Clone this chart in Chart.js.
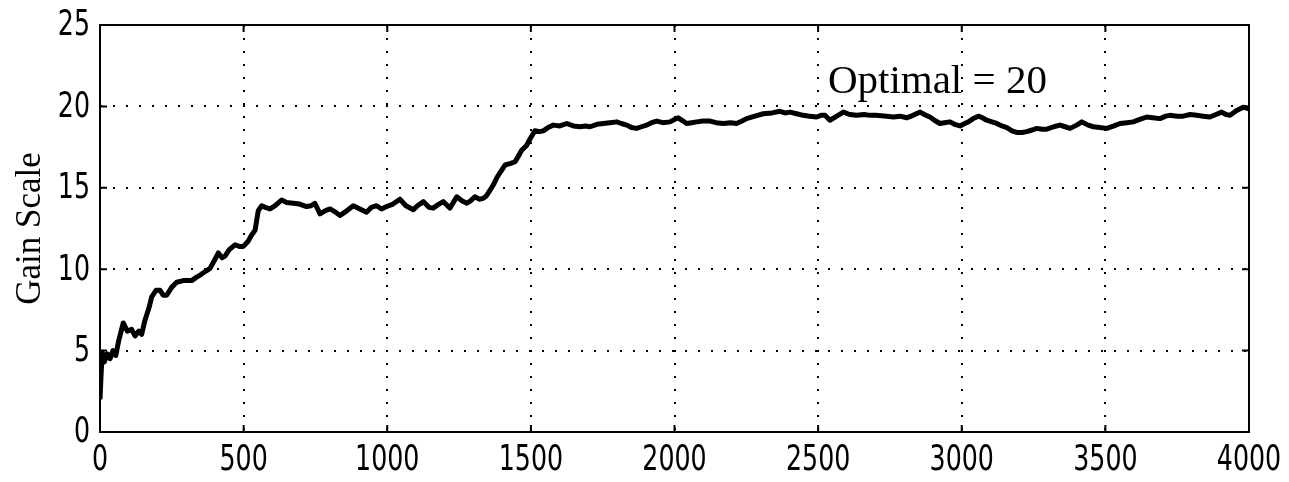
<!DOCTYPE html>
<html>
<head>
<meta charset="utf-8">
<script src="https://cdn.jsdelivr.net/npm/chart.js@4/dist/chart.umd.min.js"></script>
<style>
  html, body { margin: 0; padding: 0; background: #fff; }
  #wrap { width: 1289px; height: 482px; position: relative; }
</style>
</head>
<body>
<div id="wrap"><canvas id="chart"></canvas></div>
<script>
// iteration number and gain scale
const iterations = [
  0, 4, 8, 15, 25, 35, 45, 55, 65, 81, 95, 110, 122, 135, 145, 157, 170, 180, 195, 209,
  220, 232, 250, 267, 290, 319, 335, 354, 370, 383, 400, 412, 425, 435, 450, 470, 485, 499, 515, 528,
  540, 551, 563, 575, 592, 610, 632, 650, 673, 695, 719, 735, 748, 766, 785, 801, 820, 836, 860, 882,
  905, 928, 945, 963, 980, 998, 1020, 1044, 1065, 1091, 1105, 1126, 1145, 1160, 1180, 1195, 1210, 1218, 1242, 1260,
  1277, 1290, 1305, 1320, 1334, 1345, 1358, 1370, 1381, 1395, 1410, 1430, 1445, 1455, 1468, 1485, 1497, 1514, 1530, 1543,
  1560, 1578, 1601, 1625, 1648, 1671, 1690, 1706, 1730, 1752, 1775, 1799, 1815, 1834, 1850, 1868, 1885, 1903, 1920, 1938,
  1960, 1984, 2000, 2013, 2030, 2042, 2060, 2077, 2100, 2124, 2145, 2170, 2195, 2216, 2235, 2251, 2280, 2309, 2340, 2367,
  2385, 2402, 2425, 2448, 2470, 2495, 2510, 2524, 2541, 2565, 2588, 2610, 2634, 2660, 2681, 2700, 2739, 2762, 2785, 2808,
  2830, 2855, 2870, 2889, 2905, 2924, 2940, 2959, 2975, 2994, 3010, 3023, 3040, 3058, 3072, 3087, 3105, 3122, 3140, 3157,
  3175, 3191, 3210, 3226, 3245, 3261, 3280, 3296, 3320, 3342, 3360, 3377, 3400, 3418, 3440, 3458, 3480, 3505, 3530, 3551,
  3575, 3597, 3620, 3644, 3665, 3690, 3710, 3725, 3750, 3771, 3795, 3818, 3840, 3864, 3885, 3905, 3920, 3934, 3957, 3980,
  4000
];
const gainScale = [
  2.0, 3.6, 4.9, 4.3, 4.8, 4.5, 5.0, 4.7, 5.6, 6.7, 6.2, 6.3, 5.9, 6.2, 6.0, 6.9, 7.6, 8.3, 8.7, 8.7,
  8.4, 8.4, 8.9, 9.2, 9.3, 9.3, 9.5, 9.7, 9.9, 10.05, 10.6, 11.0, 10.7, 10.8, 11.2, 11.5, 11.4, 11.4, 11.7, 12.1,
  12.4, 13.6, 13.9, 13.8, 13.7, 13.9, 14.25, 14.1, 14.05, 14.0, 13.85, 13.9, 14.05, 13.4, 13.6, 13.7, 13.5, 13.3, 13.6, 13.9,
  13.7, 13.5, 13.8, 13.9, 13.7, 13.85, 14.0, 14.3, 13.9, 13.65, 13.9, 14.15, 13.8, 13.75, 14.0, 14.15, 13.9, 13.75, 14.45, 14.2,
  14.05, 14.2, 14.45, 14.3, 14.35, 14.5, 14.85, 15.2, 15.6, 16.0, 16.4, 16.5, 16.6, 16.9, 17.3, 17.6, 18.0, 18.5, 18.45, 18.5,
  18.7, 18.85, 18.8, 18.95, 18.8, 18.75, 18.8, 18.75, 18.9, 18.95, 19.0, 19.05, 18.95, 18.85, 18.7, 18.65, 18.75, 18.85, 19.0, 19.1,
  19.0, 19.05, 19.2, 19.3, 19.1, 18.95, 19.0, 19.05, 19.1, 19.1, 19.0, 18.95, 19.0, 18.95, 19.1, 19.25, 19.4, 19.55, 19.6, 19.7,
  19.6, 19.65, 19.55, 19.45, 19.4, 19.35, 19.45, 19.45, 19.15, 19.4, 19.65, 19.5, 19.45, 19.5, 19.45, 19.45, 19.4, 19.35, 19.4, 19.3,
  19.45, 19.65, 19.5, 19.35, 19.15, 18.95, 19.0, 19.05, 18.9, 18.8, 18.95, 19.05, 19.25, 19.4, 19.3, 19.15, 19.05, 18.95, 18.8, 18.7,
  18.5, 18.4, 18.4, 18.45, 18.55, 18.65, 18.6, 18.6, 18.75, 18.85, 18.75, 18.65, 18.85, 19.05, 18.85, 18.75, 18.7, 18.65, 18.8, 18.95,
  19.0, 19.05, 19.2, 19.35, 19.3, 19.25, 19.4, 19.45, 19.4, 19.4, 19.5, 19.45, 19.4, 19.35, 19.5, 19.65, 19.5, 19.45, 19.75, 19.95,
  19.85
];
const xTicks = [0, 500, 1000, 1500, 2000, 2500, 3000, 3500, 4000];
const yTicks = [0, 5, 10, 15, 20, 25];
const noteText = 'Optimal = 20';
const notePos = [2534, 20.8]; // iteration, gain of the text's left baseline

// narrow tick digits like the old plot
const tickFont = '36px "DejaVu Sans Condensed", "DejaVu Sans", sans-serif';
const tickSqueeze = 0.78;

function drawLabel(ctx, text, px, py, align) {
  ctx.save();
  ctx.translate(px, py);
  ctx.scale(tickSqueeze, 1);
  ctx.textAlign = align;
  ctx.fillText(text, 0, 0);
  ctx.restore();
}

// box, inward tick marks, tick labels and the note, MATLAB style
const frame = {
  id: 'frame',
  afterDraw(chart) {
    const { ctx, chartArea: a, scales: { x, y } } = chart;
    ctx.save();
    ctx.strokeStyle = '#000';
    ctx.lineWidth = 2;
    ctx.beginPath();
    xTicks.forEach(v => {
      const px = x.getPixelForValue(v);
      ctx.moveTo(px, a.bottom); ctx.lineTo(px, a.bottom - 7);
      ctx.moveTo(px, a.top); ctx.lineTo(px, a.top + 7);
    });
    yTicks.forEach(v => {
      const py = y.getPixelForValue(v);
      ctx.moveTo(a.left, py); ctx.lineTo(a.left + 7, py);
      ctx.moveTo(a.right, py); ctx.lineTo(a.right - 7, py);
    });
    ctx.stroke();
    ctx.strokeRect(a.left, a.top, a.right - a.left, a.bottom - a.top);

    ctx.fillStyle = '#000';
    ctx.font = tickFont;
    ctx.textBaseline = 'middle';
    xTicks.forEach(v => drawLabel(ctx, String(v), x.getPixelForValue(v), a.bottom + 29, 'center'));
    yTicks.forEach(v => drawLabel(ctx, String(v), a.left - 10, y.getPixelForValue(v) + 1, 'right'));

    ctx.font = '41px "Liberation Serif", "DejaVu Serif", serif';
    ctx.textAlign = 'left';
    ctx.textBaseline = 'alphabetic';
    ctx.fillText(noteText, x.getPixelForValue(notePos[0]), y.getPixelForValue(notePos[1]));
    ctx.restore();
  }
};

const noPad = s => { s.paddingTop = 0; s.paddingBottom = 0; s.paddingLeft = 0; s.paddingRight = 0; };

Chart.defaults.color = '#000';

new Chart(document.getElementById('chart'), {
  type: 'line',
  data: {
    datasets: [{
      data: iterations.map((it, i) => ({ x: it, y: gainScale[i] })),
      borderColor: '#000',
      borderWidth: 5,
      borderJoinStyle: 'round',
      pointRadius: 0,
      tension: 0,
      fill: false
    }]
  },
  options: {
    responsive: true,
    maintainAspectRatio: false,
    animation: false,
    layout: { padding: { top: 25, right: 40, left: 0, bottom: 0 } },
    plugins: {
      legend: { display: false },
      tooltip: { enabled: false }
    },
    scales: {
      x: {
        type: 'linear',
        min: 0,
        max: 4000,
        afterFit: s => { s.height = 50; noPad(s); },
        afterBuildTicks: s => { s.ticks = xTicks.map(v => ({ value: v })); },
        ticks: { display: false },
        grid: { color: '#000', lineWidth: 2, drawTicks: false },
        border: { display: false, dash: [2, 11] }
      },
      y: {
        min: 0,
        max: 25,
        afterFit: s => { s.width = 100; noPad(s); },
        afterBuildTicks: s => { s.ticks = yTicks.map(v => ({ value: v })); },
        ticks: { display: false },
        grid: { color: '#000', lineWidth: 2, drawTicks: false },
        border: { display: false, dash: [2, 11] },
        title: {
          display: true,
          text: 'Gain Scale',
          font: { family: '"Liberation Serif", "DejaVu Serif", serif', size: 35 },
          padding: { top: 10, bottom: 0 }
        }
      }
    }
  },
  plugins: [frame]
});
</script>
</body>
</html>
